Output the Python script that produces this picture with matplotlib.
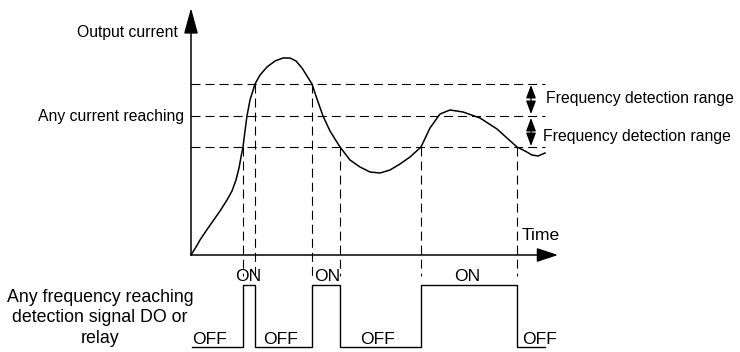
import matplotlib
matplotlib.use('Agg')
import matplotlib.pyplot as plt

plt.rcParams['font.family'] = ['Liberation Sans', 'DejaVu Sans']
plt.rcParams['lines.scale_dashes'] = False

# output current curve (time, current)
curve_t = [0, 5, 9, 15, 22, 29, 36, 41, 45, 48, 50, 52, 54, 56, 59, 64, 69, 76, 84, 92,
           99, 105, 111, 116, 121, 126, 132, 139, 149, 159, 169, 179, 189, 199, 209, 219,
           230, 239, 249, 259, 272, 289, 306, 316, 326, 334, 341, 347, 354]
curve_i = [0, 8, 15, 24, 34, 44, 55, 64, 75, 87, 98, 108, 124, 139, 155, 171, 180, 188, 194, 197,
           197, 194, 187, 179, 171, 156, 139, 124, 108, 95, 88, 83, 82, 85, 91, 98,
           108, 127, 141, 145, 143, 137, 126, 117, 108, 104, 100, 99, 102]

# detection levels: upper limit, set point, lower limit
levels = [171, 139, 108]

# output signal ON intervals
on_start = [52, 121, 230]
on_end = [64, 149, 326]
sig_start, sig_end = 1, 354
sig_off, sig_on = -92, -30

# vertical guide lines: (time, level they start from)
guide_t = [52, 64, 121, 149, 230, 326]
guide_top = [108, 171, 171, 108, 108, 108]
guide_bottom = -21

fig = plt.figure(figsize=(7.4, 3.52), dpi=100)
ax = fig.add_axes([0, 0, 1, 1])
ax.set_xlim(-191, 549)
ax.set_ylim(-97, 255)
ax.axis('off')

dash = dict(color='black', lw=0.8, dashes=(6.5, 3.6))

# axes with arrows
ax.annotate('', xy=(0, 247), xytext=(0, 0),
            arrowprops=dict(arrowstyle='-|>,head_length=1.58,head_width=0.43',
                            mutation_scale=10, lw=1.1, color='black',
                            shrinkA=0, shrinkB=0))
ax.annotate('', xy=(367, 0), xytext=(0, 0),
            arrowprops=dict(arrowstyle='-|>,head_length=1.3,head_width=0.43',
                            mutation_scale=10, lw=1.1, color='black',
                            shrinkA=0, shrinkB=0))

# horizontal levels
for lv in levels:
    ax.plot([0, 354], [lv, lv], **dash)

# vertical guides
for t, top in zip(guide_t, guide_top):
    ax.plot([t, t], [top, guide_bottom], **dash)

# current curve
ax.plot(curve_t, curve_i, color='black', lw=1.1, solid_joinstyle='round')

# double arrows for detection range
arr = dict(arrowstyle='<|-|>,head_length=0.8,head_width=0.3', mutation_scale=10,
           lw=0.9, color='black', shrinkA=0, shrinkB=0)
ax.annotate('', xy=(340, levels[0] - 1), xytext=(340, levels[1] + 2), arrowprops=arr)
ax.annotate('', xy=(340, levels[1] - 2), xytext=(340, levels[2] + 1), arrowprops=arr)

# digital output signal
sx, sy = [sig_start], [sig_off]
for a, b in zip(on_start, on_end):
    sx += [a, a, b, b]
    sy += [sig_off, sig_on, sig_on, sig_off]
sx.append(sig_end)
sy.append(sig_off)
ax.plot(sx, sy, color='black', lw=1.0)

# labels
ax.text(-13, 223, 'Output current', ha='right', va='center', fontsize=11.3)
ax.text(-7, 139, 'Any current reaching', ha='right', va='center', fontsize=11.3)
ax.text(355, 156, 'Frequency detection range', ha='left', va='center', fontsize=11.3)
ax.text(352, 119, 'Frequency detection range', ha='left', va='center', fontsize=11.3)
ax.text(331, 20, 'Time', ha='left', va='center', fontsize=12.6)

for x in [57, 136, 276]:
    ax.text(x, -26, 'ON', ha='center', va='baseline', fontsize=12.6)
for x in [1, 72, 169, 331]:
    ax.text(x, -89, 'OFF', ha='left', va='baseline', fontsize=12.6)

ax.text(-91, -63, 'Any frequency reaching\ndetection signal DO or\nrelay',
        ha='center', va='center', multialignment='center', fontsize=12.8,
        linespacing=1.3)

fig.savefig('out.png', dpi=100)
